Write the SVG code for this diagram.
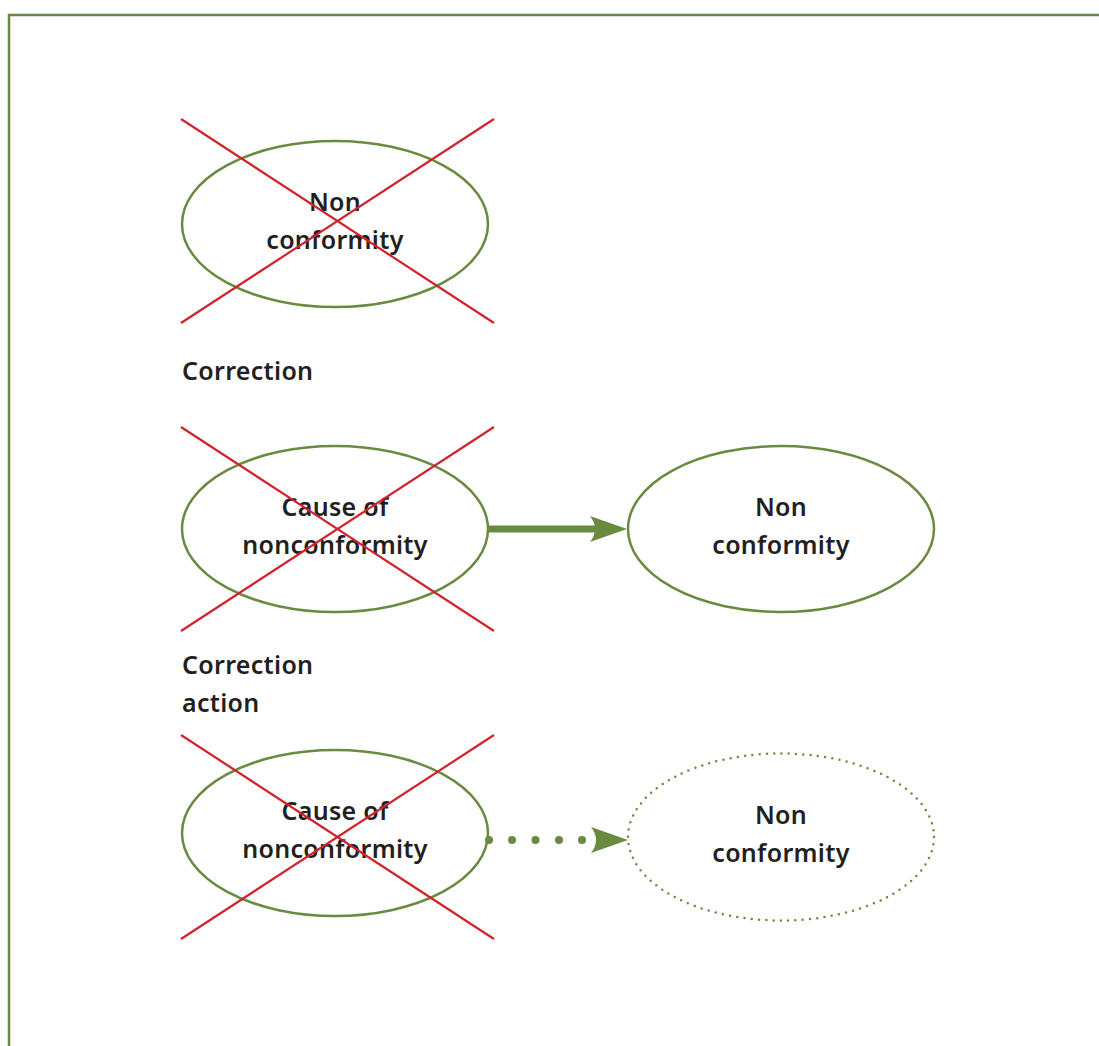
<svg xmlns="http://www.w3.org/2000/svg" width="1099" height="1046" viewBox="0 0 1099 1046">
  <defs>
    <style>
      .node { fill: #ffffff; stroke: #6a8a3f; stroke-width: 2.5; }
      .ghost { fill: none; stroke: #6a8a3f; stroke-width: 2.5; stroke-dasharray: 0 7.3; stroke-linecap: round; }
      .cross { stroke: #d2232a; stroke-width: 2.2; }
      .label { font-family: "Noto Sans", "Open Sans", sans-serif; font-weight: 600; font-size: 25px; fill: #231f20; letter-spacing: 0.3px; }
      .mid { text-anchor: middle; }
      .link { stroke: #6a8a3f; fill: none; }
      .head { fill: #6a8a3f; }
    </style>
  </defs>

  <rect width="1099" height="1046" fill="#ffffff"/>
  <!-- page frame -->
  <path d="M9 1046 V15 H1099" fill="none" stroke="#6a8a46" stroke-width="2.5"/>

  <!-- row 1: nonconformity removed -->
  <g id="nc1">
    <ellipse class="node" cx="335" cy="224" rx="153" ry="83"/>
    <text class="label mid" x="335" y="211">Non</text>
    <text class="label mid" x="335" y="249">conformity</text>
    <line class="cross" x1="181" y1="119" x2="494" y2="323"/>
    <line class="cross" x1="494" y1="119" x2="181" y2="323"/>
  </g>

  <text id="lbl-correction" class="label" x="182" y="380">Correction</text>

  <!-- row 2: cause removed, nonconformity remains -->
  <g id="cause2">
    <ellipse class="node" cx="335" cy="529" rx="153" ry="83"/>
    <text class="label mid" x="335" y="516">Cause of</text>
    <text class="label mid" x="335" y="554">nonconformity</text>
    <line class="cross" x1="181" y1="427" x2="494" y2="631"/>
    <line class="cross" x1="494" y1="427" x2="181" y2="631"/>
  </g>
  <g id="nc2">
    <ellipse class="node" cx="781" cy="529" rx="153" ry="83"/>
    <text class="label mid" x="781" y="516">Non</text>
    <text class="label mid" x="781" y="554">conformity</text>
  </g>

  <g id="lbl-action">
    <text class="label" x="182" y="674">Correction</text>
    <text class="label" x="182" y="712">action</text>
  </g>

  <!-- row 3: cause removed, nonconformity prevented -->
  <g id="cause3">
    <ellipse class="node" cx="335" cy="833" rx="153" ry="83"/>
    <text class="label mid" x="335" y="820">Cause of</text>
    <text class="label mid" x="335" y="858">nonconformity</text>
    <line class="cross" x1="181" y1="735" x2="494" y2="939"/>
    <line class="cross" x1="494" y1="735" x2="181" y2="939"/>
  </g>
  <g id="nc3">
    <ellipse class="ghost" cx="781" cy="837" rx="153" ry="83.5"/>
    <text class="label mid" x="781" y="824">Non</text>
    <text class="label mid" x="781" y="862">conformity</text>
  </g>

  <!-- connectors -->
  <g id="connectors">
    <line class="link" x1="488" y1="529" x2="600" y2="529" stroke-width="7"/>
    <path class="head" d="M590 516 L627 529 L590 542 Q600 529 590 516 Z"/>
    <g class="head">
      <circle cx="489" cy="840" r="4"/>
      <circle cx="512" cy="840" r="4"/>
      <circle cx="535.5" cy="840" r="4"/>
      <circle cx="559" cy="840" r="4"/>
      <circle cx="582" cy="840" r="4"/>
    </g>
    <path class="head" d="M591 827 L628 840 L591 853 Q601 840 591 827 Z"/>
  </g>
</svg>
